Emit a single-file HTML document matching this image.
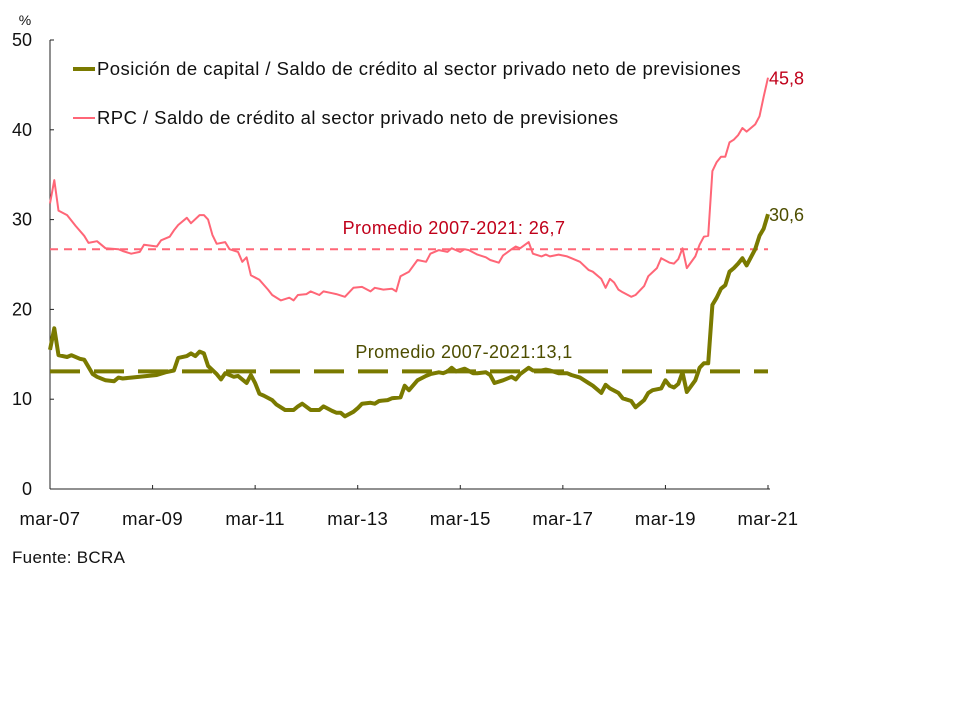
<!DOCTYPE html>
<html><head><meta charset="utf-8"><style>
body{margin:0;background:#fff;}
svg text{font-family:"Liberation Sans",sans-serif;}
</style></head><body>
<svg id="chart" width="960" height="720" xmlns="http://www.w3.org/2000/svg">
<g id="axes"></g>
<g id="marks"></g>
<g>
<line x1="73" y1="69" x2="95" y2="69" stroke="#7a7a00" stroke-width="4"/>
<text x="97" y="75" font-size="18.5" letter-spacing="0.45" fill="#111">Posición de capital / Saldo de crédito al sector privado neto de previsiones</text>
<line x1="73" y1="118" x2="95" y2="118" stroke="#ff6677" stroke-width="2"/>
<text x="97" y="124" font-size="18.5" letter-spacing="0.45" fill="#111">RPC / Saldo de crédito al sector privado neto de previsiones</text>
</g>
<text x="12" y="563" font-size="17" letter-spacing="0.3" fill="#111">Fuente: BCRA</text>
</svg>
<script>
const xTickLabels=["mar-07","mar-09","mar-11","mar-13","mar-15","mar-17","mar-19","mar-21"];
const yTicks=[0,10,20,30,40,50];
const rpcMonths=[0,1,2,4,6,8,9,11,13,16,17,19,21,22,25,26,28,29,30,32,33,35,36,37,38,39,41,42,44,45,46,47,49,51,52,54,56,57,58,60,61,63,64,66,67,69,71,73,75,76,78,80,81,82,84,86,88,89,91,93,94,96,97,98,100,102,103,105,106,108,109,110,112,113,115,116,117,119,121,122,124,126,127,129,130,131,132,133,134,136,137,139,140,142,143,145,146,147,148,149,151,152,153,154,155,156,157,158,159,160,161,162,163,165,166,167,168];
const rpcValues=[31.8,34.4,31.0,30.5,29.3,28.2,27.4,27.6,26.8,26.7,26.5,26.2,26.4,27.2,27.0,27.7,28.1,28.8,29.4,30.2,29.6,30.5,30.5,30.0,28.3,27.3,27.5,26.7,26.4,25.3,25.8,23.8,23.3,22.2,21.6,21.0,21.3,21.0,21.6,21.7,22.0,21.6,22.0,21.8,21.7,21.4,22.4,22.5,22.0,22.4,22.2,22.3,22.0,23.7,24.2,25.5,25.3,26.2,26.6,26.4,26.8,26.4,26.7,26.6,26.1,25.8,25.5,25.2,26.0,26.7,27.0,26.8,27.5,26.2,25.9,26.1,25.9,26.1,25.9,25.7,25.3,24.4,24.2,23.4,22.4,23.4,23.0,22.2,21.9,21.4,21.6,22.6,23.7,24.6,25.7,25.2,25.1,25.6,26.8,24.6,25.9,27.2,28.1,28.2,35.4,36.4,37.0,37.0,38.6,38.9,39.4,40.2,39.8,40.6,41.5,43.7,45.8];
const capMonths=[0,1,2,4,5,7,8,10,11,13,15,16,17,19,21,23,25,27,29,30,32,33,34,35,36,37,39,40,41,43,44,46,47,48,49,50,52,53,55,57,58,59,61,63,64,66,67,68,69,71,72,73,75,76,77,79,80,82,83,84,86,88,89,91,92,93,94,95,97,99,100,102,103,104,106,108,109,110,112,113,115,116,117,119,121,122,124,126,127,129,130,131,133,134,136,137,139,140,141,143,144,145,146,147,148,149,151,152,153,154,155,156,157,158,159,160,161,162,163,164,165,166,167,168];
const capValues=[15.5,17.9,14.9,14.7,14.9,14.5,14.4,12.8,12.5,12.1,12.0,12.4,12.3,12.4,12.5,12.6,12.7,13.0,13.2,14.6,14.8,15.1,14.8,15.3,15.1,13.7,12.8,12.2,12.9,12.5,12.6,11.8,12.7,11.8,10.6,10.4,9.9,9.4,8.8,8.8,9.2,9.5,8.8,8.8,9.2,8.7,8.5,8.5,8.1,8.6,9.0,9.5,9.6,9.5,9.8,9.9,10.1,10.2,11.5,11.0,12.1,12.6,12.8,13.0,12.9,13.1,13.5,13.1,13.4,12.9,12.9,13.0,12.7,11.8,12.1,12.5,12.2,12.8,13.5,13.2,13.2,13.3,13.2,12.9,12.9,12.7,12.4,11.8,11.5,10.7,11.6,11.2,10.7,10.1,9.8,9.1,9.9,10.7,11.0,11.2,12.1,11.5,11.3,11.7,13.0,10.8,12.1,13.5,14.0,14.0,20.5,21.3,22.3,22.7,24.2,24.6,25.1,25.7,24.9,25.8,26.7,28.2,29.0,30.6];
const rpcAvg=26.7, capAvg=13.1;
const NS="http://www.w3.org/2000/svg";
const X0=50,X1=768,Y0=489,Y1=40,MAXM=168,MAXY=50;
const xs=m=>X0+(X1-X0)*m/MAXM;
const ys=v=>Y0-(Y0-Y1)*v/MAXY;
function mk(tag,attrs,parent,txt){const e=document.createElementNS(NS,tag);for(const k in attrs)e.setAttribute(k,attrs[k]);if(txt!==undefined)e.textContent=txt;parent.appendChild(e);return e;}
const axes=document.getElementById('axes'),marks=document.getElementById('marks');
let e=mk('line',{x1:X0,y1:Y1,x2:X0,y2:Y0,stroke:'#222','stroke-width':1},axes);


e=mk('line',{x1:X0,y1:Y0,x2:X1+2,y2:Y0,stroke:'#222','stroke-width':1},axes);


e=mk('text',{x:25,y:25,'font-size':14,fill:'#111','text-anchor':'middle'},axes,'%');


yTicks.forEach(v=>{
  const t=mk('line',{x1:X0,y1:ys(v),x2:X0+4,y2:ys(v),stroke:'#222'},axes);
  
  
  const l=mk('text',{x:32,y:ys(v)+6,'font-size':18,fill:'#111','text-anchor':'end'},axes,String(v));
  
  
});
xTickLabels.forEach((s,i)=>{
  const m=i*24,x=xs(m);
  const t=mk('line',{x1:x,y1:Y0,x2:x,y2:Y0-4,stroke:'#222'},axes);
  
  
  const l=mk('text',{x:x,y:525,'font-size':18.5,'letter-spacing':0.4,fill:'#111','text-anchor':'middle'},axes,s);
  
  
});
e=mk('line',{x1:X0,y1:ys(rpcAvg),x2:X1,y2:ys(rpcAvg),stroke:'#ff6677','stroke-width':2,'stroke-dasharray':'8,6'},marks);


e=mk('line',{x1:X0,y1:ys(capAvg),x2:X1,y2:ys(capAvg),stroke:'#7a7a00','stroke-width':4,'stroke-dasharray':'30,14'},marks);


function path(ms,vs){return ms.map((m,i)=>(i?'L':'M')+xs(m).toFixed(1)+','+ys(vs[i]).toFixed(1)).join('');}
e=mk('path',{d:path(rpcMonths,rpcValues),fill:'none',stroke:'#ff6677','stroke-width':2,'stroke-linejoin':'round'},marks);


e=mk('path',{d:path(capMonths,capValues),fill:'none',stroke:'#7a7a00','stroke-width':4,'stroke-linejoin':'round'},marks);


e=mk('text',{x:454,y:234,'font-size':18,'letter-spacing':0.4,fill:'#c0001a','text-anchor':'middle'},marks,'Promedio 2007-2021: 26,7');


e=mk('text',{x:464,y:358,'font-size':18,'letter-spacing':0.4,fill:'#4d4d00','text-anchor':'middle'},marks,'Promedio 2007-2021:13,1');


const rl=rpcValues[rpcValues.length-1],cl=capValues[capValues.length-1];
e=mk('text',{x:769,y:ys(rl)+7,'font-size':18,fill:'#c0001a'},marks,rl.toFixed(1).replace('.',','));


e=mk('text',{x:769,y:ys(cl)+7,'font-size':18,fill:'#4d4d00'},marks,cl.toFixed(1).replace('.',','));


</script>
</body></html>
